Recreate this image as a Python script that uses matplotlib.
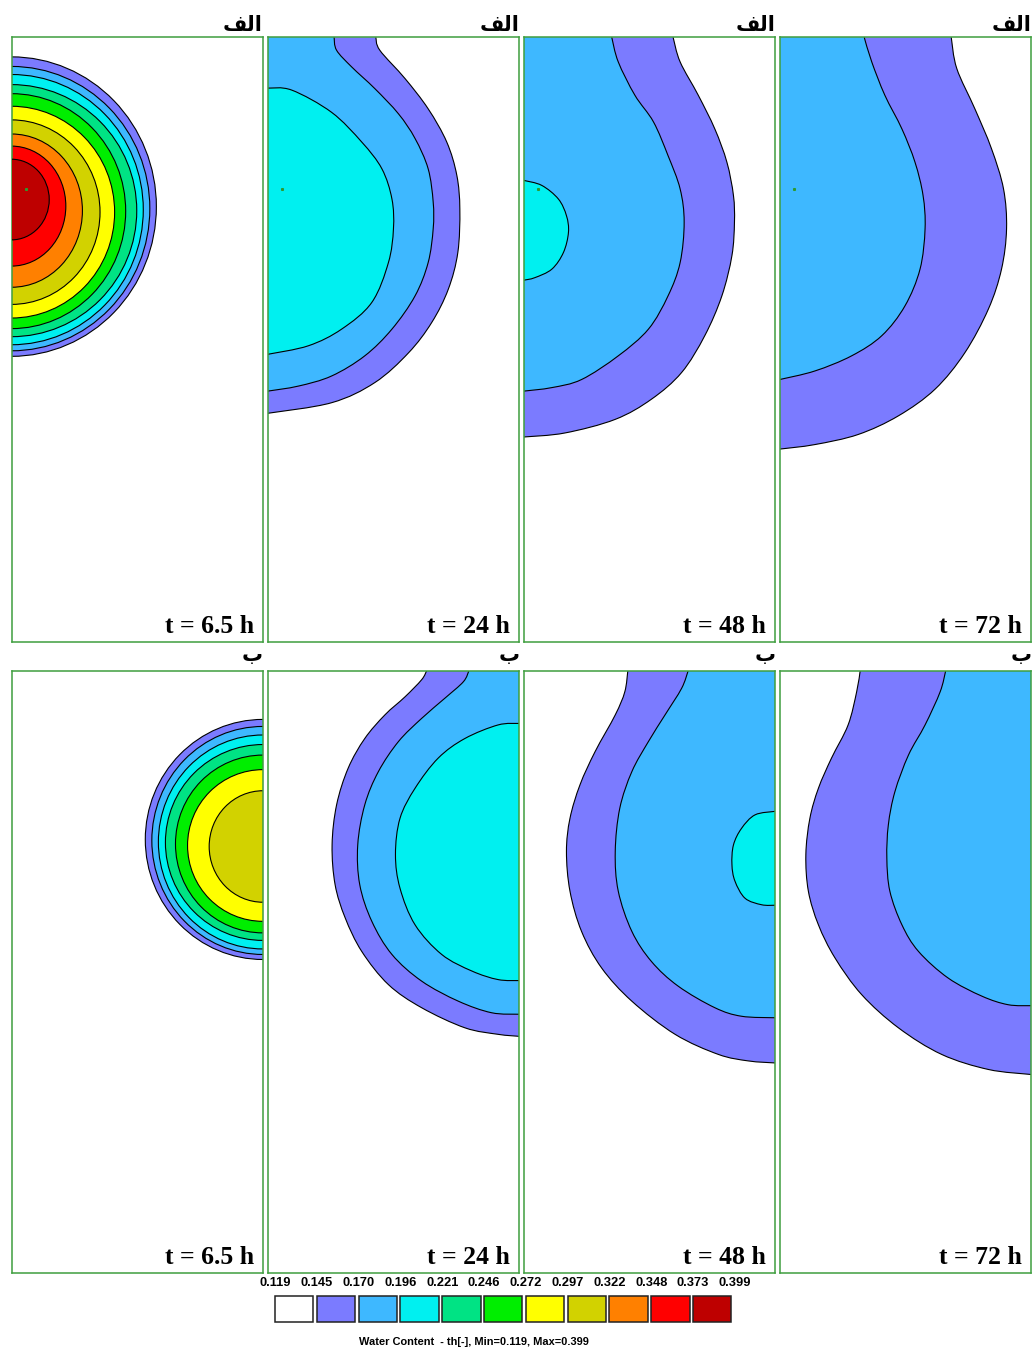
import matplotlib
matplotlib.use("Agg")
import matplotlib.pyplot as plt
from matplotlib.patches import Ellipse, Rectangle, PathPatch
from matplotlib.path import Path

# ---------------------------------------------------------------------------
# Water content classes (HYDRUS style legend)
# ---------------------------------------------------------------------------
levels = [0.119, 0.145, 0.170, 0.196, 0.221, 0.246, 0.272, 0.297, 0.322,
          0.348, 0.373, 0.399]
band_colors = ["#FFFFFF", "#7B7BFF", "#3EB8FF", "#00F0F0", "#00E384",
               "#00EE00", "#FFFF00", "#D2D200", "#FF8000", "#FF0000",
               "#BE0000"]
times = ["6.5", "24", "48", "72"]
# matplotlib lays text out left to right without Arabic shaping, so the
# row marks are written with presentation-form glyphs in visual order
row_marks = ["\uFED2\uFEDF\uFE8D", "\u0628"]   # الف , ب

# domain of every panel: width (cm) and depth (cm)
width_cm = 50.0
depth_cm = 120.0
emitter = (2.9, 30.2)

# ---------------------------------------------------------------------------
# t = 6.5 h : isolines 0.145 ... 0.373 (centre depth, half width, half height)
# ---------------------------------------------------------------------------
top_early_center = [33.6, 34.0, 34.2, 34.4, 34.5, 34.7, 34.7, 34.4, 33.5, 32.2]
top_early_rx = [28.8, 27.5, 26.2, 24.9, 22.7, 20.5, 17.6, 14.1, 10.8, 7.5]
top_early_rz = [29.7, 28.2, 26.8, 25.0, 23.3, 21.0, 18.3, 15.2, 11.9, 8.0]

bot_early_center = [33.6, 33.8, 34.1, 34.2, 34.5, 34.8, 35.0]
bot_early_rx = [23.4, 22.1, 20.8, 19.4, 17.4, 15.0, 10.7]
bot_early_rz = [23.9, 22.7, 21.3, 19.5, 17.7, 15.1, 11.1]

# ---------------------------------------------------------------------------
# later times : traced isolines (x cm, depth cm)
# ---------------------------------------------------------------------------
top24_145 = [(21.5, 0), (22.3, 2.6), (27.3, 8.2), (31.9, 14.2), (35.6, 20.8),
             (37.6, 27.4), (38.2, 34.1), (37.8, 42.7), (35.9, 50.0),
             (32.6, 56.6), (28.0, 62.6), (21.3, 68.5), (12.7, 72.5), (0, 74.6)]
top24_170 = [(13.2, 0), (13.7, 2.6), (16.7, 5.9), (21.3, 10.2), (26.0, 15.2),
             (29.3, 20.1), (31.9, 26.1), (32.9, 32.7), (32.9, 38.0),
             (31.9, 44.7), (29.3, 51.3), (24.7, 57.9), (19.3, 63.2),
             (12.7, 67.2), (6.1, 69.2), (0, 70.2)]
top24_196 = [(0, 10.1), (4.8, 10.5), (12.7, 14.9), (18.7, 20.8), (22.7, 26.1),
             (24.7, 32.1), (25.0, 38.0), (24.0, 44.7), (20.7, 52.6),
             (14.7, 57.9), (8.1, 61.2), (0, 62.9)]

top48_145 = [(29.7, 0), (31.1, 4.9), (34.7, 11.5), (38.0, 18.2), (40.4, 24.8),
             (41.7, 31.4), (41.9, 36.7), (41.4, 43.3), (39.4, 51.3),
             (36.0, 59.2), (31.4, 66.5), (25.4, 71.8), (18.2, 75.8),
             (8.2, 78.5), (0, 79.3)]
top48_170 = [(17.5, 0), (18.8, 4.9), (22.1, 11.5), (25.8, 16.8), (28.7, 23.5),
             (31.1, 30.1), (31.9, 36.7), (31.1, 44.7), (28.7, 51.3),
             (24.8, 57.9), (18.8, 63.2), (11.5, 67.9), (5.6, 69.5), (0, 70.2)]
top48_196 = [(0, 28.4), (3.6, 29.4), (6.9, 32.1), (8.5, 35.4), (8.9, 38.7),
             (7.9, 42.7), (5.6, 46.0), (2.2, 47.7), (0, 48.2)]

top72_145 = [(34.1, 0), (35.2, 6.2), (38.8, 14.2), (42.1, 22.1), (44.5, 30.1),
             (45.1, 38.0), (44.1, 46.0), (41.5, 53.9), (36.8, 62.6),
             (30.9, 69.8), (23.6, 75.1), (15.6, 78.8), (7.0, 80.8), (0, 81.7)]
top72_170 = [(16.8, 0), (18.3, 4.9), (20.9, 11.5), (24.3, 18.2), (26.9, 24.8),
             (28.5, 31.4), (28.9, 38.0), (27.9, 46.0), (24.9, 53.3),
             (20.3, 59.2), (14.3, 63.2), (7.0, 66.2), (0, 67.9)]

bot24_145 = [(31.6, 0), (30.6, 1.8), (27.3, 5.2), (23.3, 8.8), (19.3, 13.5),
             (16.0, 19.4), (13.7, 26.7), (12.8, 34.7), (13.4, 42.6),
             (15.4, 49.2), (18.7, 55.9), (24.0, 62.5), (30.6, 67.1),
             (39.2, 71.1), (45.8, 72.4), (50, 72.8)]
bot24_170 = [(40.0, 0), (38.9, 2.2), (35.2, 5.5), (30.6, 9.5), (26.0, 14.1),
             (22.0, 20.1), (19.3, 26.7), (17.9, 34.7), (18.3, 42.6),
             (20.7, 49.9), (24.7, 56.5), (30.6, 61.8), (37.9, 65.8),
             (44.5, 68.1), (50, 68.4)]
bot24_196 = [(50, 10.5), (45.8, 10.8), (39.2, 13.5), (33.9, 17.4),
             (29.3, 23.4), (26.3, 29.4), (25.4, 36.6), (26.3, 43.3),
             (29.3, 50.6), (34.6, 56.5), (40.6, 59.8), (45.8, 61.5), (50, 61.7)]

bot48_145 = [(20.7, 0), (20.1, 4.2), (18.2, 8.8), (14.2, 16.1), (11.2, 22.7),
             (9.2, 29.4), (8.5, 36.0), (9.2, 43.9), (11.5, 51.9), (15.5, 59.2),
             (21.5, 65.8), (30.1, 72.4), (38.7, 76.4), (44.7, 77.7), (50, 78.1)]
bot48_170 = [(32.7, 0), (31.4, 3.5), (28.1, 8.8), (24.8, 14.1), (21.5, 20.1),
             (19.1, 27.4), (18.2, 36.0), (18.8, 43.9), (21.5, 51.9),
             (25.4, 57.9), (30.7, 62.8), (38.0, 67.1), (43.3, 68.8), (50, 69.1)]
bot48_196 = [(50, 28.0), (46.0, 28.7), (43.3, 31.4), (41.7, 34.7), (41.4, 38.6),
             (42.0, 41.9), (44.0, 45.3), (47.3, 46.6), (50, 46.7)]

bot72_145 = [(16.0, 0), (15.3, 4.2), (13.6, 10.8), (10.3, 17.4), (7.7, 23.4),
             (6.0, 29.4), (5.2, 36.6), (5.7, 43.9), (7.7, 50.6), (11.0, 57.2),
             (16.3, 64.5), (23.6, 71.1), (32.2, 76.4), (41.5, 79.4), (50, 80.4)]
bot72_170 = [(33.0, 0), (31.9, 4.2), (28.9, 10.8), (25.6, 16.8), (22.9, 24.1),
             (21.6, 30.7), (21.3, 37.3), (21.9, 43.9), (24.3, 50.6),
             (27.6, 55.9), (33.5, 61.2), (40.2, 64.8), (45.4, 66.5), (50, 66.7)]

late_top = [[top24_145, top24_170, top24_196],
            [top48_145, top48_170, top48_196],
            [top72_145, top72_170]]
late_bot = [[bot24_145, bot24_170, bot24_196],
            [bot48_145, bot48_170, bot48_196],
            [bot72_145, bot72_170]]

# ---------------------------------------------------------------------------
# figure layout (pixel geometry of the panel grid)
# ---------------------------------------------------------------------------
W, H = 1034, 1352
fig = plt.figure(figsize=(W / 100, H / 100), dpi=100)
panel_left = [11.5, 267.7, 523.7, 779.7]
panel_w = 251.5
row_top = [37.2, 670.7]
row_h = [605.0, 602.7]
frame_color = "#3F9E3F"


def make_axes(col, row):
    ax = fig.add_axes([panel_left[col] / W,
                       1 - (row_top[row] + row_h[row]) / H,
                       panel_w / W, row_h[row] / H])
    ax.set_xlim(0, width_cm)
    ax.set_ylim(depth_cm, 0)
    ax.set_xticks([])
    ax.set_yticks([])
    for s in ax.spines.values():
        s.set_color(frame_color)
        s.set_linewidth(1.1)
        s.set_zorder(10)
    return ax


def smooth_path(pts):
    """Cubic Bezier path through the vertices (Catmull-Rom tangents)."""
    n = len(pts)
    verts = [pts[0]]
    codes = [Path.MOVETO]
    for i in range(n - 1):
        p0 = pts[max(i - 1, 0)]
        p1 = pts[i]
        p2 = pts[i + 1]
        p3 = pts[min(i + 2, n - 1)]
        c1 = (p1[0] + (p2[0] - p0[0]) / 6, p1[1] + (p2[1] - p0[1]) / 6)
        c2 = (p2[0] - (p3[0] - p1[0]) / 6, p2[1] - (p3[1] - p1[1]) / 6)
        verts += [c1, c2, p2]
        codes += [Path.CURVE4] * 3
    return verts, codes


def draw_isoline(ax, pts, color, side):
    verts, codes = smooth_path(pts)
    fv, fc = list(verts), list(codes)
    if pts[0][1] == 0:         # curve leaves through the soil surface
        fv.append((side, 0))
        fc.append(Path.LINETO)
    fv.append(pts[0])
    fc.append(Path.CLOSEPOLY)
    ax.add_patch(PathPatch(Path(fv, fc), facecolor=color, lw=0, zorder=2))
    ax.add_patch(PathPatch(Path(verts, codes), facecolor="none",
                           edgecolor="black", lw=0.8, zorder=3))


for row in range(2):
    side = 0.0 if row == 0 else width_cm
    for col in range(4):
        ax = make_axes(col, row)
        if col == 0:
            if row == 0:
                cen, rx, rz = top_early_center, top_early_rx, top_early_rz
            else:
                cen, rx, rz = bot_early_center, bot_early_rx, bot_early_rz
            for k in range(len(cen)):
                ax.add_patch(Ellipse((side, cen[k]), 2 * rx[k], 2 * rz[k],
                                     facecolor=band_colors[k + 1],
                                     edgecolor="black", lw=0.8, zorder=2 + k))
        else:
            curves = (late_top if row == 0 else late_bot)[col - 1]
            for k, pts in enumerate(curves):
                draw_isoline(ax, pts, band_colors[k + 1], side)
        if row == 0:
            ax.plot(*emitter, marker="s", ms=1.2, color="#2E9A2E", zorder=20)
        ax.text(1 - 9 / panel_w, 9.5 / row_h[row], f"t = {times[col]} h",
                transform=ax.transAxes, ha="right", va="baseline",
                family="Liberation Serif", fontweight="bold", fontsize=18.5,
                zorder=30)
        ax.text(1.0, 1 + (6 if row == 0 else 10) / row_h[row], row_marks[row],
                transform=ax.transAxes, ha="right", va="baseline",
                family="DejaVu Sans", fontweight="bold", fontsize=15,
                clip_on=False)

# ---------------------------------------------------------------------------
# legend: discrete colour boxes with class limits
# ---------------------------------------------------------------------------
lax = fig.add_axes([0, 0, 1, 1], facecolor="none")
lax.set_xlim(0, W)
lax.set_ylim(H, 0)
lax.axis("off")
box_x0, box_step, box_w = 275.0, 41.8, 38.3
box_y0, box_h = 1295.5, 26.0
for i, c in enumerate(band_colors):
    lax.add_patch(Rectangle((box_x0 + i * box_step, box_y0), box_w, box_h,
                            facecolor=c, edgecolor="#222222", lw=1.1))
for i, v in enumerate(levels):
    lax.text(box_x0 + i * box_step, 1282.5, f"{v:.3f}", ha="center",
             va="center", family="Liberation Sans", fontweight="bold",
             fontsize=9.3)
lax.text(474, 1342, "Water Content  - th[-], Min=0.119, Max=0.399",
         ha="center", va="center", family="Liberation Sans",
         fontweight="bold", fontsize=7.9)

fig.savefig("out.png", dpi=100)
